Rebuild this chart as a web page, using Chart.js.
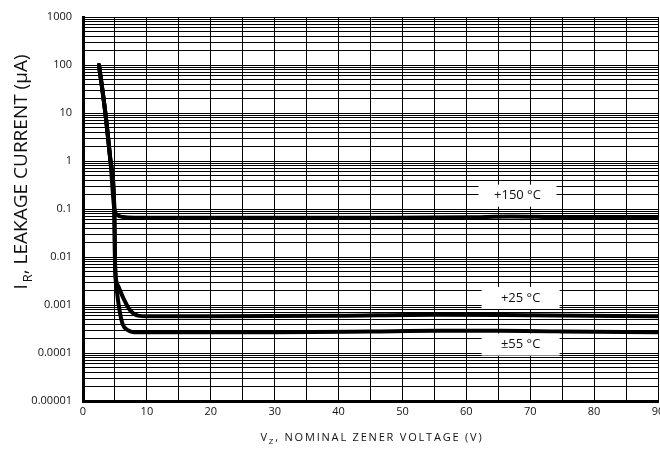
<!DOCTYPE html>
<html><head><meta charset="utf-8">
<script src="https://cdn.jsdelivr.net/npm/chart.js@4/dist/chart.umd.min.js"></script>
<style>html,body{margin:0;padding:0;background:#fff}canvas{display:block}</style>
</head><body>
<div style="width:660px;height:449px"><canvas id="c" width="660" height="449"></canvas></div>
<script>
// ---- data ----
const xTickLabels = ['0','10','20','30','40','50','60','70','80','90'];
const yTickLabels = ['0.00001','0.0001','0.001','0.01','0.1','1','10','100','1000'];

const t150X = [2.5, 3.5, 4.3, 4.9, 5.3, 6.3, 8, 15, 30, 45, 60, 67, 75, 90];
const t150Y = [100, 10, 1, 0.1, 0.076, 0.068, 0.066, 0.066, 0.066, 0.066, 0.067, 0.07, 0.068, 0.068];

const t25X = [2.5, 3.5, 4.3, 4.9, 5.0, 5.05, 5.5, 6.3, 7.3, 8.6, 10, 20, 40, 55, 70, 90];
const t25Y = [100, 10, 1, 0.1, 0.01, 0.005, 0.0025, 0.0014, 0.0008, 0.0006, 0.00058, 0.00058, 0.0006, 0.00063, 0.00061, 0.00058];

const tm55X = [2.5, 3.5, 4.3, 4.9, 5.0, 5.05, 5.3, 5.7, 6.2, 7, 8.5, 15, 30, 45, 55, 65, 75, 90];
const tm55Y = [100, 10, 1, 0.1, 0.01, 0.005, 0.002, 0.0008, 0.0004, 0.0003, 0.00027, 0.00027, 0.00027, 0.00028, 0.00029, 0.00029, 0.00028, 0.00027];

const seriesNames = ['+150 °C', '+25 °C', '±55 °C'];
// label box anchors (data coords)
const labelAnchorX = [68, 68.5, 68.5];
const labelAnchorY = [0.19, 0.0014, 0.00015];

const pts = (xs, ys) => xs.map((x, i) => ({x, y: ys[i]}));

const yDecades = yTickLabels.map(Number);
const yGridValues = [];
yDecades.forEach(d => { for (let m = 1; m <= 9; m++) { const v = +(m * d).toPrecision(6); if (v <= 1000) yGridValues.push(v); } });

const labelsPlugin = {
  id: 'labelsPlugin',
  afterDraw(chart) {
    const ctx = chart.ctx, xs = chart.scales.x, ys = chart.scales.y;
    ctx.save();
    seriesNames.forEach((name, i) => {
      const cx = xs.getPixelForValue(labelAnchorX[i]);
      const cy = ys.getPixelForValue(labelAnchorY[i]);
      ctx.fillStyle = '#fff';
      ctx.fillRect(cx - 39, cy - 11, 78, 22);
      ctx.fillStyle = '#111';
      ctx.font = '13px "Open Sans"';
      ctx.textAlign = 'center';
      ctx.textBaseline = 'middle';
      ctx.fillText(name, cx, cy);
    });
    // x axis title with subscript
    ctx.fillStyle = '#111';
    ctx.textBaseline = 'alphabetic';
    ctx.textAlign = 'left';
    ctx.letterSpacing = '1.8px';
    const main = ', NOMINAL ZENER VOLTAGE (V)';
    ctx.font = '11px "Open Sans"';
    const wV = ctx.measureText('V').width;
    const wMain = ctx.measureText(main).width;
    ctx.font = '8px "Open Sans"';
    const wZ = ctx.measureText('Z').width;
    const total = wV + wZ + wMain;
    let x0 = 372 - total / 2;
    const by = 441;
    ctx.font = '11px "Open Sans"';
    ctx.fillText('V', x0, by);
    ctx.font = '8px "Open Sans"';
    ctx.fillText('Z', x0 + wV, by + 3);
    ctx.font = '11px "Open Sans"';
    ctx.fillText(main, x0 + wV + wZ, by);
    // y axis title rotated
    ctx.letterSpacing = '0px';
    ctx.translate(27, 172);
    ctx.rotate(-Math.PI / 2);
    ctx.font = '19px "Open Sans"';
    const yMain = ', LEAKAGE CURRENT (\u03BCA)';
    const wI = ctx.measureText('I').width;
    const wYM = ctx.measureText(yMain).width;
    ctx.font = '13px "Open Sans"';
    const wR = ctx.measureText('R').width;
    const tot = wI + wR + 2 + wYM;
    let sx = -tot / 2;
    ctx.font = '19px "Open Sans"';
    ctx.fillText('I', sx, 0);
    ctx.font = '13px "Open Sans"';
    ctx.fillText('R', sx + wI + 2, 5);
    ctx.font = '19px "Open Sans"';
    ctx.fillText(yMain, sx + wI + 2 + wR, 0);
    ctx.restore();
  }
};

const ds = (data) => ({
  data, borderColor: '#000', borderWidth: 4, pointRadius: 0, fill: false,
  cubicInterpolationMode: 'monotone', borderCapStyle: 'round', borderJoinStyle: 'round'
});

new Chart(document.getElementById('c'), {
  type: 'line',
  data: {
    datasets: [ds(pts(t150X, t150Y)), ds(pts(t25X, t25Y)), ds(pts(tm55X, tm55Y))]
  },
  options: {
    responsive: false, animation: false, devicePixelRatio: 1,
    layout: { padding: { top: 17, right: 2, left: 0, bottom: 0 } },
    plugins: { legend: { display: false }, tooltip: { enabled: false } },
    scales: {
      x: {
        type: 'linear', min: 0, max: 90,
        afterFit: s => { s.height = 48; s.paddingLeft = 0; s.paddingRight = 0; },
        ticks: {
          stepSize: 5, autoSkip: false, maxRotation: 0, padding: 4,
          color: '#111', font: { family: 'Open Sans', size: 11 },
          callback: v => (v % 10 === 0 ? xTickLabels[v / 10] : '')
        },
        grid: { color: '#000', lineWidth: 1, drawTicks: false },
        border: { color: '#000', width: 3 }
      },
      y: {
        type: 'logarithmic', min: 0.00001, max: 1000,
        afterFit: s => { s.width = 83; s.paddingTop = 0; s.paddingBottom = 0; },
        afterBuildTicks: s => { s.ticks = yGridValues.map(v => ({ value: v })); },
        ticks: {
          autoSkip: false, padding: 11, color: '#111', font: { family: 'Open Sans', size: 11 },
          callback: v => { const i = yDecades.findIndex(d => Math.abs(d - v) / d < 1e-6); return i >= 0 ? yTickLabels[i] : ''; }
        },
        grid: { color: '#000', lineWidth: 1, drawTicks: false },
        border: { color: '#000', width: 3 }
      }
    }
  },
  plugins: [labelsPlugin]
});
</script>
</body></html>
